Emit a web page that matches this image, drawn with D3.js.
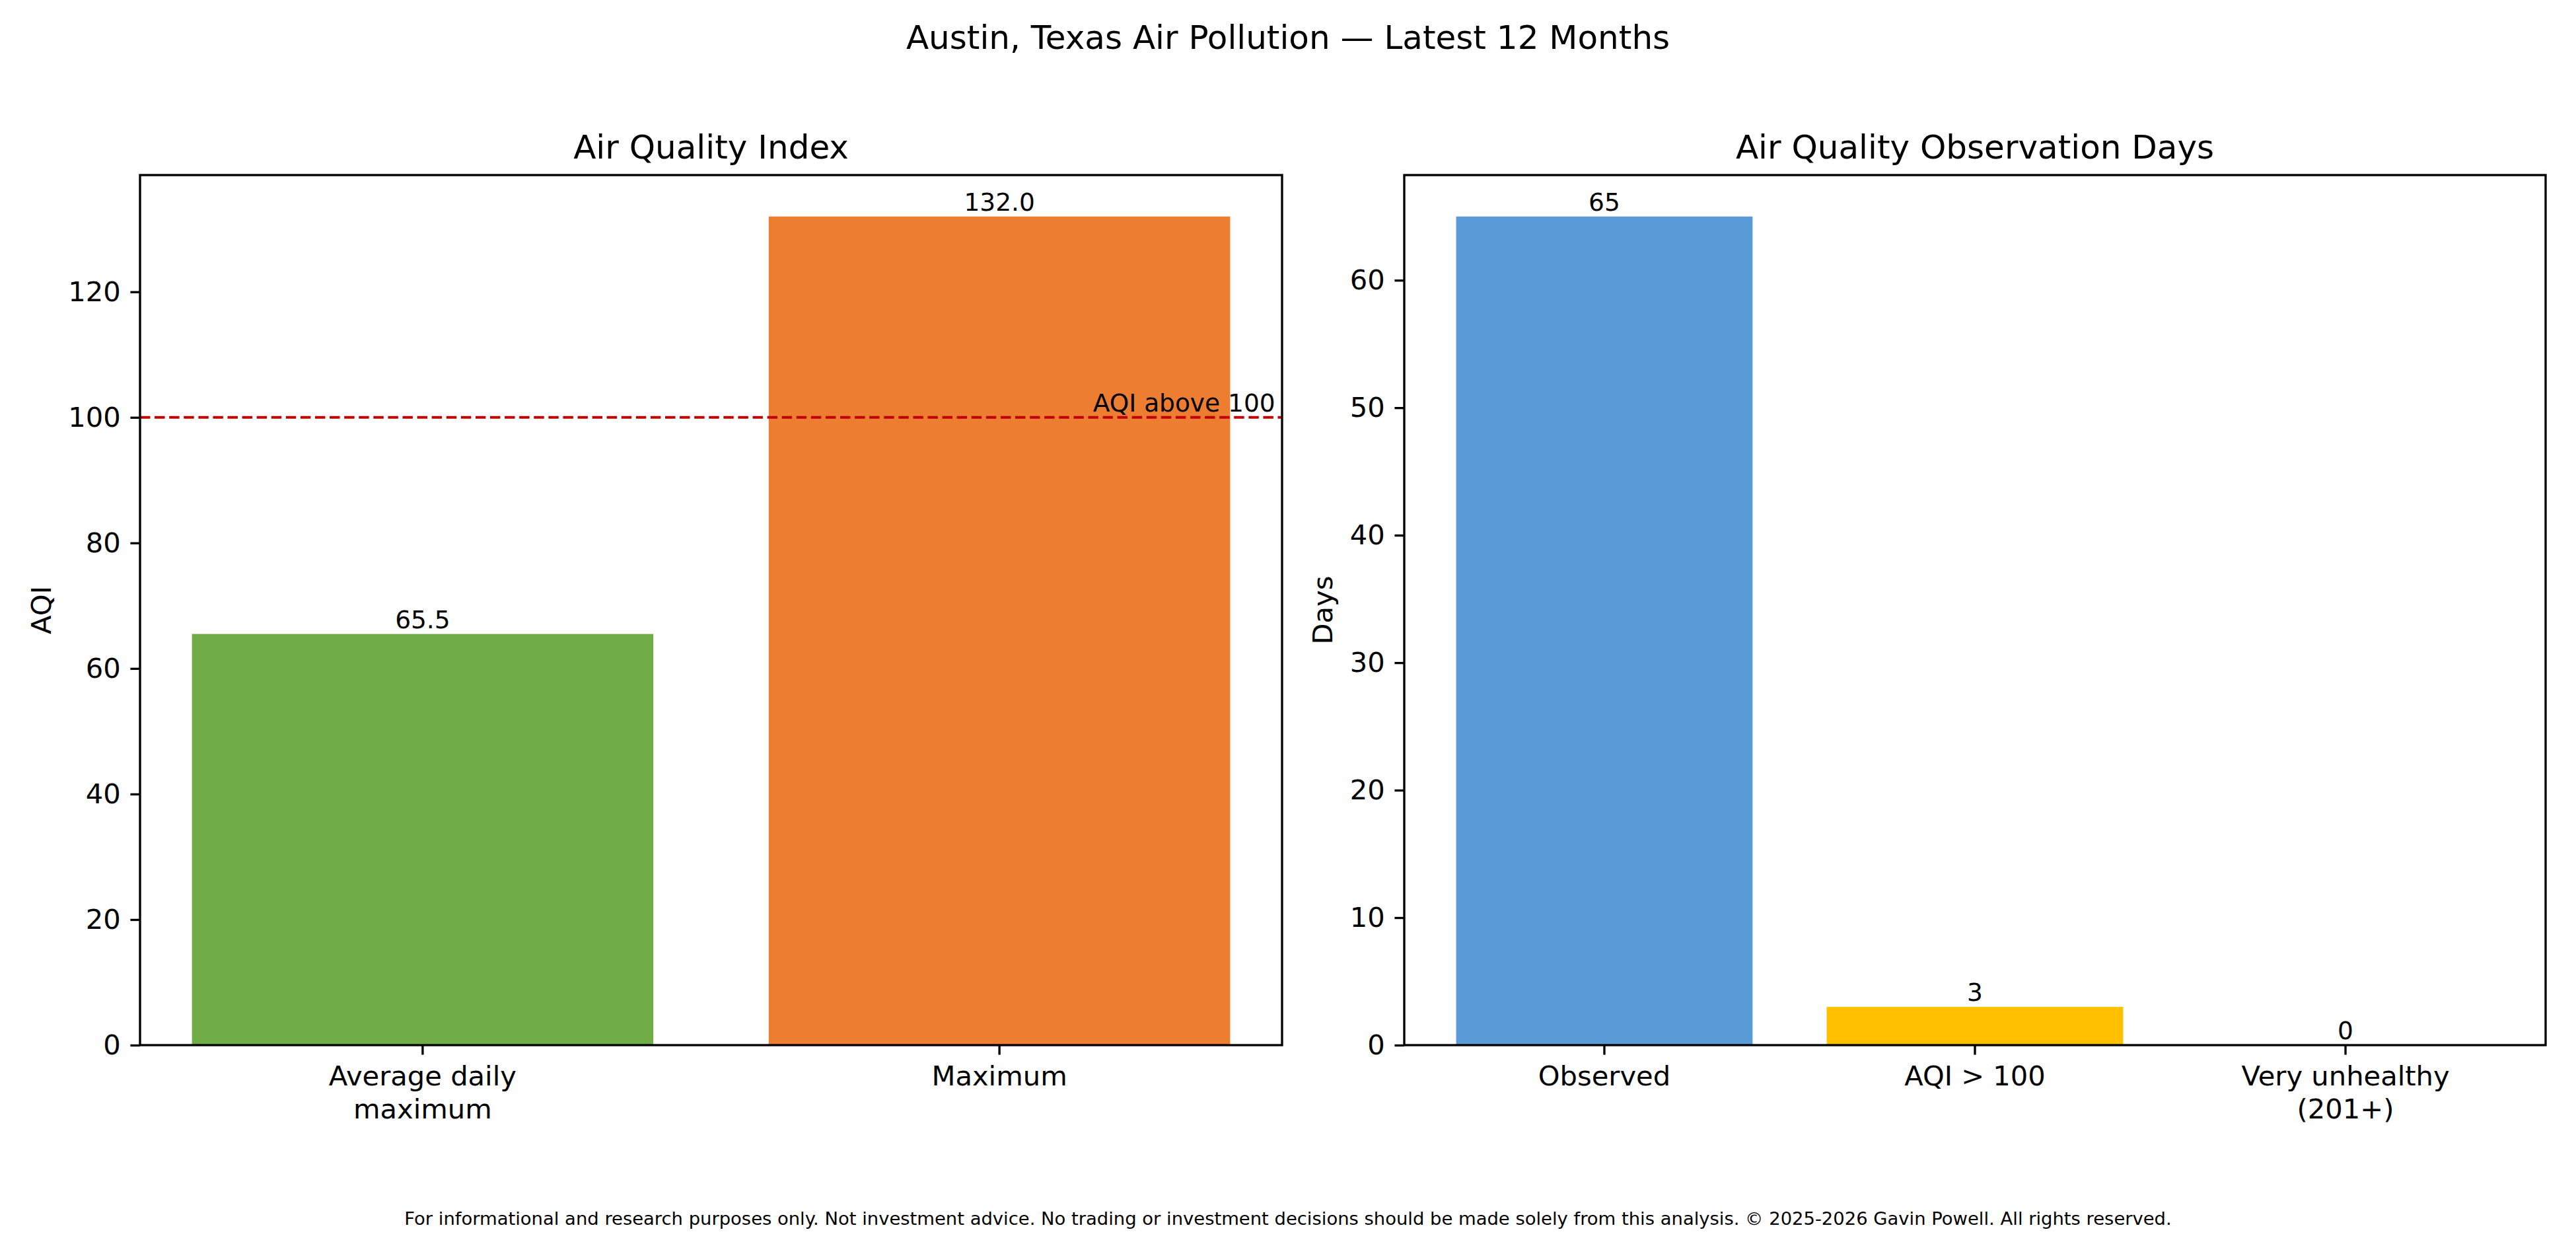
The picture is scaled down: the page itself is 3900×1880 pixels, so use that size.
<!DOCTYPE html>
<html>
<head>
<meta charset="utf-8">
<script src="https://cdn.jsdelivr.net/npm/d3@7"></script>
<style>
  body { margin: 0; background: #fff; }
  svg { display: block; font-family: "DejaVu Sans", sans-serif; }
</style>
</head>
<body>
<div id="chart"></div>
<script>

// Data

const aqiCategories = ['Average daily\nmaximum', 'Maximum'];
const aqiValues     = [65.5, 132.0];
const aqiTicks      = [0, 20, 40, 60, 80, 100, 120];
const aqiThreshold  = 100;

const dayCategories = ['Observed', 'AQI > 100', 'Very unhealthy\n(201+)'];
const dayValues     = [65, 3, 0];
const dayTicks      = [0, 10, 20, 30, 40, 50, 60];

const aqiColors = ['#70ad47', '#ed7d31'];
const dayColors = ['#5b9bd5', '#ffc000', '#c00000'];

// Layout (figure is 13 x 6.27 in at 300 dpi)

const W  = 3900,
      H  = 1880,
      PT = 300 / 72;

const fontTick  = 10 * PT,
      fontTitle = 12 * PT,
      fontLabel = 9 * PT,
      fontFoot  = 6.58 * PT,
      lineW     = 0.8 * PT,
      tickLen   = 3.5 * PT;

const svg = d3.select('#chart').append('svg')
  .attr('width', W)
  .attr('height', H);

svg.append('rect')
  .attr('width', W)
  .attr('height', H)
  .attr('fill', '#fff');

svg.append('text')
  .attr('x', W / 2)
  .attr('y', 74)
  .attr('text-anchor', 'middle')
  .attr('font-size', fontTitle)
  .text('Austin, Texas Air Pollution \u2014 Latest 12 Months');

svg.append('text')
  .attr('x', W / 2)
  .attr('y', 1854)
  .attr('text-anchor', 'middle')
  .attr('font-size', fontFoot)
  .text('For informational and research purposes only. Not investment advice. No trading or investment decisions should be made solely from this analysis. \u00a9 2025-2026 Gavin Powell. All rights reserved.');

const panels = [
  {
    title: 'Air Quality Index',
    ylabel: 'AQI',
    cats: aqiCategories,
    values: aqiValues,
    colors: aqiColors,
    ticks: aqiTicks,
    fmt: d3.format('.1f'),
    threshold: aqiThreshold,
    box: { x0: 212, x1: 1941, y0: 265, y1: 1582 }
  },
  {
    title: 'Air Quality Observation Days',
    ylabel: 'Days',
    cats: dayCategories,
    values: dayValues,
    colors: dayColors,
    ticks: dayTicks,
    fmt: d3.format('d'),
    threshold: null,
    box: { x0: 2126, x1: 3854, y0: 265, y1: 1582 }
  }
];

panels.forEach(drawPanel);

function drawPanel(p) {

  const { x0, x1, y0, y1 } = p.box,
        n = p.cats.length;

  // bars are 0.8 wide with 5% margin like matplotlib
  const x = d3.scaleBand()
    .domain(d3.range(n))
    .range([x0, x1])
    .paddingInner(0.2)
    .paddingOuter(0.05 * (n - 0.2));

  const y = d3.scaleLinear()
    .domain([0, d3.max(p.values) * 1.05])
    .range([y1, y0]);

  const g = svg.append('g');

  g.selectAll('rect.bar')
    .data(p.values)
    .join('rect')
      .attr('class', 'bar')
      .attr('x', (d, i) => x(i))
      .attr('width', x.bandwidth())
      .attr('y', d => y(d))
      .attr('height', d => y(0) - y(d))
      .attr('fill', (d, i) => p.colors[i]);

  if (p.threshold !== null) {
    g.append('line')
      .attr('x1', x0)
      .attr('x2', x1)
      .attr('y1', y(p.threshold))
      .attr('y2', y(p.threshold))
      .attr('stroke', '#c00000')
      .attr('stroke-width', PT)
      .attr('stroke-dasharray', `${3.7 * PT} ${1.6 * PT}`);

    g.append('text')
      .attr('x', x0 + 0.994 * (x1 - x0))
      .attr('y', y(p.threshold) - 0.236 * fontLabel)
      .attr('text-anchor', 'end')
      .attr('font-size', fontLabel)
      .text(`AQI above ${p.threshold}`);
  }

  // axes
  const yAxis = g.append('g')
    .attr('transform', `translate(${x0},0)`)
    .call(d3.axisLeft(y).tickValues(p.ticks).tickSize(tickLen).tickPadding(tickLen));

  const xAxis = g.append('g')
    .attr('transform', `translate(0,${y1})`)
    .call(d3.axisBottom(x).tickSize(tickLen).tickPadding(tickLen).tickFormat(i => p.cats[i]));

  [yAxis, xAxis].forEach(ax => {
    ax.attr('font-family', null).attr('font-size', fontTick);
    ax.select('.domain').remove();
    ax.selectAll('.tick line').attr('stroke', '#000').attr('stroke-width', lineW);
    ax.selectAll('.tick text').attr('fill', '#000');
  });

  xAxis.selectAll('.tick text').each(function (i) {
    const t = d3.select(this).text(null).attr('dy', null).attr('y', null);
    p.cats[i].split('\n').forEach((line, k) => {
      t.append('tspan')
        .attr('x', 0)
        .attr('y', 2 * tickLen + 0.76 * fontTick + k * 1.2 * fontTick)
        .text(line);
    });
  });

  g.append('rect')
    .attr('x', x0)
    .attr('y', y0)
    .attr('width', x1 - x0)
    .attr('height', y1 - y0)
    .attr('fill', 'none')
    .attr('stroke', '#000')
    .attr('stroke-width', lineW);

  // bar value labels
  g.selectAll('text.value')
    .data(p.values)
    .join('text')
      .attr('class', 'value')
      .attr('x', (d, i) => x(i) + x.bandwidth() / 2)
      .attr('y', d => y(d) - 0.236 * fontLabel)
      .attr('text-anchor', 'middle')
      .attr('font-size', fontLabel)
      .text(d => p.fmt(d));

  g.append('text')
    .attr('x', (x0 + x1) / 2)
    .attr('y', y0 - 6 * PT)
    .attr('text-anchor', 'middle')
    .attr('font-size', fontTitle)
    .text(p.title);

  // y label sits 4pt left of the tick labels
  let minX = Infinity;
  yAxis.selectAll('.tick text').each(function () {
    minX = Math.min(minX, this.getBBox().x);
  });
  const labelX = x0 + minX - 4 * PT - 0.236 * fontTick;

  g.append('text')
    .attr('transform', `translate(${labelX},${(y0 + y1) / 2}) rotate(-90)`)
    .attr('text-anchor', 'middle')
    .attr('font-size', fontTick)
    .text(p.ylabel);

}

</script>
</body>
</html>
